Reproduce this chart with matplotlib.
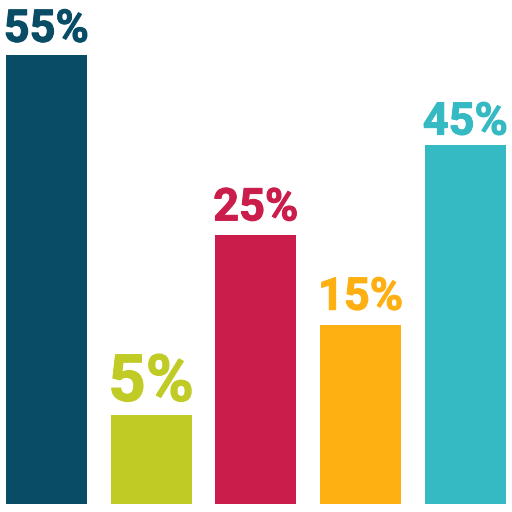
import matplotlib
matplotlib.use("Agg")
import matplotlib.pyplot as plt
import matplotlib.patheffects as pe

heights = [5, 1, 3, 2, 4]
labels = ["55%", "5%", "25%", "15%", "45%"]
colors = ["#084C66", "#C1CB26", "#CB1D4B", "#FEB013", "#35BAC4"]
label_sizes = [32.5, 47, 32.5, 32.5, 32.5]
label_gaps = [13.5, 13.5, 14.5, 15, 10.5]

fig = plt.figure(figsize=(5.12, 5.12), dpi=100)
ax = fig.add_axes([0, 0, 1, 1])
ax.axis("off")
pos = list(range(5))
ax.bar(pos, heights, width=81/104.75, color=colors)
ax.set_xlim(-46.3/104.75, (512-46.3)/104.75)
scale = (504-55)/5
ax.set_ylim(-(511.7-504)/scale, 504.3/scale)
for p, v, l, c, s, g in zip(pos, heights, labels, colors, label_sizes, label_gaps):
    ax.annotate(l, (p, v), xytext=(0, g*0.72), textcoords="offset points", ha="center", va="baseline",
                color=c, fontsize=s, fontweight="bold", family="Roboto",
                path_effects=[pe.withStroke(linewidth=0.7, foreground=c)])
fig.savefig("out.png", dpi=100)
